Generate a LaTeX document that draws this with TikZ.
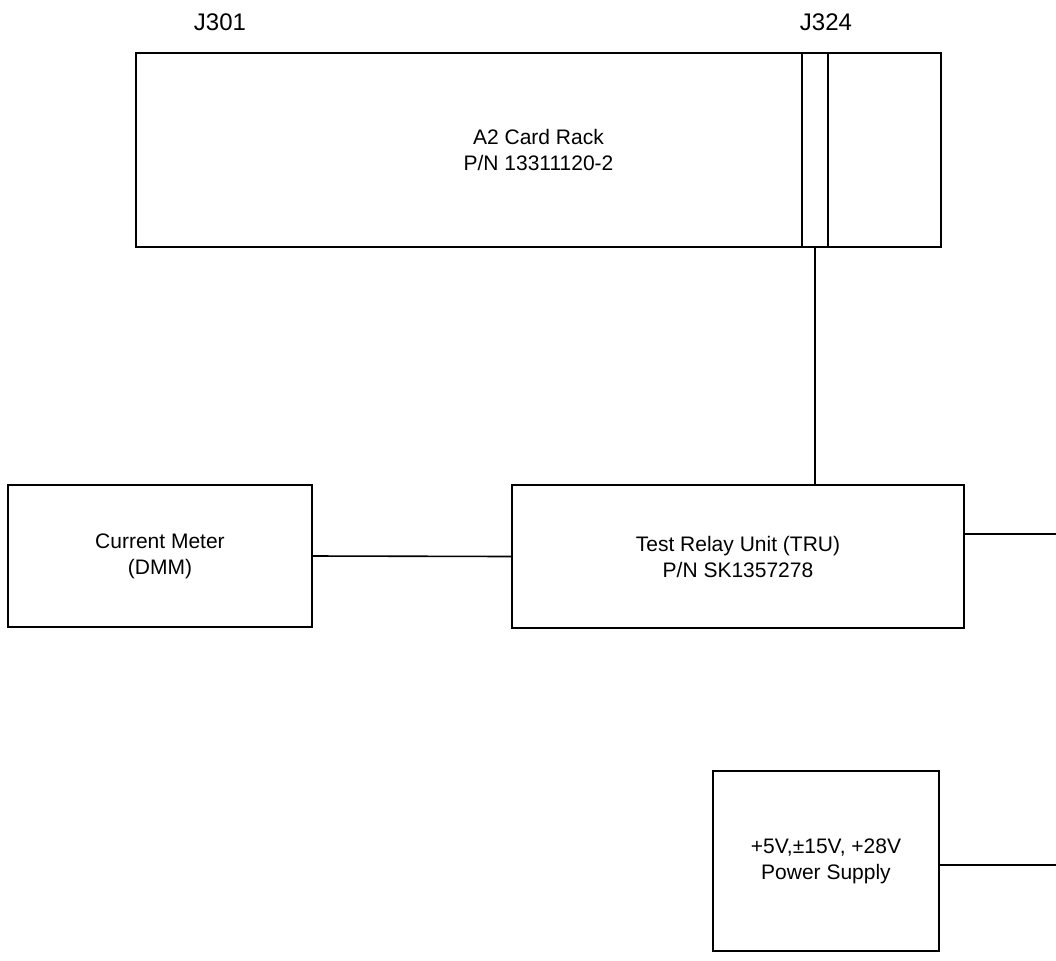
\documentclass[tikz,border=0pt]{standalone}
\usepackage{fontspec}
\setmainfont{Liberation Sans}
\begin{document}
\begin{tikzpicture}[x=0.5pt, y=-0.5pt, line width=0.6pt,
    unit/.style={draw, rectangle, inner sep=0pt, align=center,
      font=\fontsize{10.5}{13}\selectfont},
    jack/.style={font=\fontsize{12}{14}\selectfont},
    wire/.style={line width=0.8pt}]
  \useasboundingbox (0,0) rectangle (1056,960);
  % card rack with the J324 slot
  \node[unit, minimum width=402.5pt, minimum height=97pt] (rack) at (538.5,150)
    {A2 Card Rack\\P/N 13311120-2};
  \node[draw, inner sep=0pt, minimum width=13pt, minimum height=97pt] (slot) at (815,150) {};
  \node[jack] (j301) at (220,22) {J301};
  \node[jack] (j324) at (826,22) {J324};
  % units
  \node[unit, minimum width=152pt, minimum height=71pt] (meter) at (160,556)
    {Current Meter\\(DMM)};
  \node[unit, minimum width=226pt, minimum height=71.5pt] (tru) at (738,556.5)
    {Test Relay Unit (TRU)\\P/N SK1357278};
  \node[unit, minimum width=113pt, minimum height=90pt] (psu) at (826,861)
    {+5V,±15V, +28V\\Power Supply};
  % connections
  \coordinate (truout) at (1056,534);
  \coordinate (psuout) at (1056,865);
  \draw (slot.south) -- (slot.south |- tru.north);
  \draw[wire] (meter.east) -- (tru.west);
  \draw[wire] (tru.east |- truout) -- (truout);
  \draw[wire] (psu.east |- psuout) -- (psuout);
\end{tikzpicture}
\end{document}
